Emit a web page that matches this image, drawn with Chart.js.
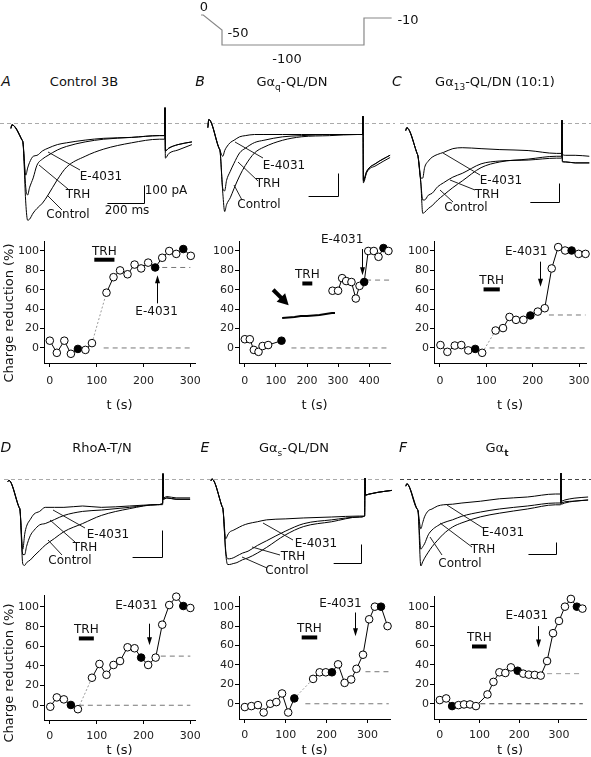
<!DOCTYPE html>
<html>
<head>
<meta charset="utf-8">
<script src="https://cdn.jsdelivr.net/npm/chart.js@4"></script>
<style>
  body { margin: 0; width: 591px; height: 757px; position: relative; overflow: hidden; background: #fff;
         font-family: "DejaVu Sans", sans-serif; color: #111; }
  canvas { position: absolute; }
  .lbl { position: absolute; white-space: nowrap; transform: translate(-50%, -50%); font-size: 12px; line-height: 1; }
  .ttl { font-size: 13px; }
  .let { font-size: 14px; font-style: italic; }
  sub { font-size: 9px; vertical-align: -4px; line-height: 0; }
</style>
</head>
<body>
<script>
// voltage protocol (ms, mV)
const protocolT = [-48, -36, 65, 65, 830, 830, 979];
const protocolV = [0, 0, -50, -100, -100, -10, -10];

// current traces: sample times (ms) and currents (pA)
const traceT = [0, 5, 60, 65, 80, 90, 100, 120, 140, 170, 200, 250, 300, 400, 500, 650, 800, 828, 830, 832, 850, 900, 975];

const aControl = [-30,-10,-95,-110,-445,-540,-535,-500,-475,-445,-400,-315,-245,-185,-145,-110,-90,-90,85,-195,-170,-150,-120];
const aTRH     = [-30,-10,-95,-110,-360,-400,-360,-305,-235,-200,-180,-150,-130,-105,-90,-80,-70,-70,85,-155,-140,-120,-105];
const aE4031   = [-30,-10,-95,-110,-290,-250,-220,-185,-180,-155,-140,-120,-110,-95,-85,-80,-70,-70,85,-155,-140,-120,-105];

const bControl = [-20,15,-110,-120,-305,-385,-355,-325,-285,-230,-185,-130,-105,-75,-60,-55,-50,-50,30,-260,-215,-185,-150];
const bTRH     = [-20,15,-110,-120,-285,-295,-250,-210,-175,-130,-110,-85,-75,-60,-55,-50,-50,-50,30,-250,-210,-175,-140];
const bE4031   = [-20,15,-110,-120,-145,-120,-105,-85,-75,-60,-55,-50,-50,-50,-50,-50,-50,-50,30,-250,-210,-175,-140];

const cControl = [-40,-25,-160,-175,-315,-475,-470,-450,-435,-405,-380,-340,-305,-235,-205,-190,-175,-175,15,-205,-205,-210,-210];
const cTRH     = [-40,-25,-160,-175,-315,-405,-405,-380,-370,-335,-315,-285,-265,-215,-200,-195,-185,-185,15,-200,-205,-210,-210];
const cE4031   = [-40,-25,-160,-175,-290,-290,-235,-200,-180,-165,-155,-135,-130,-135,-140,-145,-160,-160,15,-165,-170,-170,-175];

const dControl = [-10,-5,-105,-115,-315,-320,-310,-300,-285,-265,-245,-220,-195,-165,-135,-110,-95,-90,20,-75,-70,-75,-75];
const dTRH     = [-10,-5,-105,-115,-280,-280,-250,-210,-190,-170,-165,-150,-135,-120,-115,-105,-95,-90,20,-75,-70,-75,-75];
const dE4031   = [-10,-5,-105,-115,-260,-205,-175,-150,-130,-120,-105,-105,-105,-100,-105,-100,-95,-95,20,-70,-65,-70,-70];

const eControl = [-10,0,-145,-160,-395,-450,-450,-445,-440,-425,-415,-390,-360,-295,-250,-225,-200,-195,5,-85,-80,-70,-60];
const eTRH     = [-10,0,-145,-160,-380,-420,-420,-415,-405,-390,-380,-350,-325,-275,-235,-215,-200,-195,5,-85,-80,-70,-60];
const eE4031   = [-10,0,-145,-160,-315,-295,-280,-270,-260,-245,-235,-225,-215,-210,-205,-200,-195,-195,5,-85,-80,-70,-60];

const fControl = [-60,-40,-250,-265,-725,-690,-660,-610,-565,-510,-460,-400,-365,-315,-285,-250,-215,-215,50,-210,-200,-185,-175];
const fTRH     = [-60,-40,-250,-265,-585,-565,-540,-465,-425,-390,-365,-340,-310,-275,-250,-225,-200,-200,50,-200,-190,-185,-175];
const fE4031   = [-60,-40,-250,-265,-415,-365,-315,-265,-250,-225,-215,-210,-200,-185,-165,-150,-125,-125,50,-185,-175,-160,-150];

// scale bar durations (ms); amplitude is 100 pA everywhere
const barMs = [200, 160, 155, 160, 150, 150];

// charge reduction (%) vs time (s); filled = times drawn as black dots
const aTime = [0,15,31,45,60,76,90,121,136,150,166,181,195,210,225,240,255,270,285,301];
const aReduction = [7.5,-5,7.5,-6,-1,-2,5,57,73,80,76,86,82,88,83,93,100,97,102,95];
const aFilled = [60,225,285];

const bTime = [0,16,29,44,57,75,118,282,300,313,326,343,357,369,384,397,415,430,446,462];
const bReduction = [9,9,-2,-4,2,3,7.5,59,59,72,69,68,51,64,68,100,100,94,103,100];
const bFilled = [118,384,446];
const bSweepT = [120,140,160,180,200,220,240,260,280,290];
const bSweep = [31,31.5,32,33,33,33.5,34,35,36,36];

const cTime = [1,16,32,46,61,76,91,120,136,150,164,180,195,211,226,241,255,270,284,299,314];
const cReduction = [3,-4,2.5,3,-2.5,-1,-5,18,20.5,32,29,29,33.5,37.5,41,82,104,100.5,100.5,97,97];
const cFilled = [76,195,284];

const dTime = [1,15,30,45,60,90,106,121,136,150,166,181,195,210,226,240,255,270,285,300];
const dReduction = [-1.5,8,6,0.3,-4,28,42,31,41,45,59,58,48.5,41,48.5,82,102,110.5,101,99];
const dFilled = [45,195,285];

const eTime = [0,16,32,46,62,77,91,106,121,167,183,198,213,228,244,260,273,289,304,318,333,349];
const eReduction = [-3.4,-2.4,-1.4,-9,0,1.7,10.6,-9,5.5,25.6,32.4,32.4,32.4,40.6,21.5,25,36,50.5,87,100,100,80];
const eFilled = [121,213,333];

const fTime = [0,16,31,47,61,76,91,120,135,150,165,179,196,210,224,239,254,270,285,300,315,330,345,359];
const fReduction = [3.8,5.5,-2.4,-1.4,-0.7,-0.7,-2.4,9.6,22.5,32.4,31.7,37.5,34,31,30,29.7,29,44,72.7,85.3,100,108,100,98];
const fFilled = [31,196,345];

const pctTicks = [0, 20, 40, 60, 80, 100];
const timeTicks = [0, 100, 200, 300];
const timeTicksB = [0, 100, 200, 300, 400];

Chart.defaults.font.family = '"DejaVu Sans", sans-serif';
Chart.defaults.color = '#222';

function mk(left, top, w, h) {
  const c = document.createElement('canvas');
  c.width = w; c.height = h;
  c.style.left = left + 'px'; c.style.top = top + 'px';
  c.style.width = w + 'px'; c.style.height = h + 'px';
  document.body.appendChild(c);
  return c;
}
const pts = (xs, ys) => xs.map((x, i) => ({ x, y: ys[i] }));

function lab(x, y, html, cls, extra) {
  const d = document.createElement('div');
  d.className = 'lbl' + (cls ? ' ' + cls : '');
  d.innerHTML = html;
  d.style.left = x + 'px'; d.style.top = y + 'px';
  if (extra) d.style.transform = extra;
  document.body.appendChild(d);
}

function bare(xmin, xmax, ymin, ymax) {
  return {
    responsive: false, animation: false, devicePixelRatio: 1, events: [],
    layout: { padding: 0 },
    plugins: { legend: { display: false }, tooltip: { enabled: false } },
    scales: {
      x: { type: 'linear', display: false, min: xmin, max: xmax },
      y: { type: 'linear', display: false, min: ymin, max: ymax }
    }
  };
}

// ---- protocol ----
{
  const c = mk(195, 0, 230, 62);
  const k = 0.1856;
  const xmin = 65 - (222 - 195) / k;
  new Chart(c, {
    type: 'scatter',
    data: { datasets: [{ data: pts(protocolT, protocolV), showLine: true, borderColor: '#888',
      borderWidth: 1.2, pointRadius: 0 }] },
    options: bare(xmin, xmin + 230 / k, 50 - 62 / 0.3, 50)
  });
  lab(204, 6, '0', 'ttl');
  lab(238, 32, '-50', 'ttl');
  lab(287, 58, '-100', 'ttl');
  lab(408, 19, '-10', 'ttl');
}

// ---- current traces ----
const traceDeco = {
  id: 'traceDeco',
  beforeDatasetsDraw(chart, args, o) {
    const { ctx, scales: { y } } = chart;
    ctx.save();
    ctx.strokeStyle = o.zeroColor; ctx.lineWidth = 1; ctx.setLineDash([4, 3]);
    const yz = Math.round(y.getPixelForValue(0)) + 0.5;
    ctx.beginPath(); ctx.moveTo(o.zeroFrom - o.left, yz); ctx.lineTo(o.zeroTo - o.left, yz); ctx.stroke();
    ctx.restore();
  },
  afterDatasetsDraw(chart, args, o) {
    const { ctx, scales: { x, y } } = chart;
    ctx.save();
    ctx.strokeStyle = '#000'; ctx.lineWidth = 1;
    const bx = o.bar[0] - o.left + 0.5, by = o.bar[1] - o.top + 0.5;
    const hl = x.getPixelForValue(o.barMs) - x.getPixelForValue(0);
    const vl = y.getPixelForValue(0) - y.getPixelForValue(100);
    ctx.beginPath(); ctx.moveTo(bx - hl, by); ctx.lineTo(bx, by); ctx.lineTo(bx, by - vl); ctx.stroke();
    ctx.strokeStyle = '#222';
    o.leaders.forEach(l => {
      ctx.beginPath();
      ctx.moveTo(l[0] - o.left, l[1] - o.top); ctx.lineTo(l[2] - o.left, l[3] - o.top);
      ctx.stroke();
    });
    ctx.restore();
  }
};

function traceChart(p) {
  const c = mk(p.left, p.top, p.w, p.h);
  const k = (p.xUp - p.xDown) / (830 - 65);
  const xmin = 65 - (p.xDown - p.left) / k;
  const pa = 100 / p.barPx;
  const ymax = (p.yZero - p.top) * pa;
  const opts = bare(xmin, xmin + p.w / k, ymax - p.h * pa, ymax);
  opts.plugins.traceDeco = {
    left: p.left, top: p.top, zeroFrom: p.zeroFrom, zeroTo: p.zeroTo, zeroColor: p.zeroColor,
    bar: p.bar, barMs: p.barMs, leaders: p.leaders
  };
  new Chart(c, {
    type: 'scatter',
    data: { datasets: p.traces.map(tr => ({
      data: pts(traceT, tr), showLine: true, borderColor: '#000', borderWidth: 1,
      pointRadius: 0, cubicInterpolationMode: 'monotone'
    })) },
    options: opts,
    plugins: [traceDeco]
  });
  lab(p.labels[0][0], p.labels[0][1], 'E-4031');
  lab(p.labels[1][0], p.labels[1][1], 'TRH');
  lab(p.labels[2][0], p.labels[2][1], 'Control');
}

traceChart({ left: 0, top: 95, w: 200, h: 135, xDown: 23, xUp: 165, yZero: 123, barPx: 18,
  zeroFrom: 0, zeroTo: 200, zeroColor: '#aaa', bar: [144, 203], barMs: barMs[0],
  traces: [aControl, aTRH, aE4031],
  leaders: [[48,152,80,170],[39,165,68,189],[47,195,62,210]],
  labels: [[101,176],[78,194],[68,214]] });
lab(166, 190, '100 pA');
lab(127, 210, '200 ms');

traceChart({ left: 195, top: 95, w: 200, h: 135, xDown: 220, xUp: 363, yZero: 123, barPx: 23,
  zeroFrom: 197, zeroTo: 395, zeroColor: '#aaa', bar: [338, 196], barMs: barMs[1],
  traces: [bControl, bTRH, bE4031],
  leaders: [[235,142,263,158],[238,162,258,181],[234,185,242,200]],
  labels: [[284,165],[268,183],[259,204]] });

traceChart({ left: 395, top: 95, w: 196, h: 135, xDown: 418, xUp: 562, yZero: 123, barPx: 19,
  zeroFrom: 400, zeroTo: 591, zeroColor: '#aaa', bar: [559, 202], barMs: barMs[2],
  traces: [cControl, cTRH, cE4031],
  leaders: [[443,153,480,175],[450,180,475,190],[440,190,453,202]],
  labels: [[501,180],[487,194],[466,207]] });

traceChart({ left: 0, top: 455, w: 197, h: 130, xDown: 20, xUp: 163, yZero: 479, barPx: 27,
  zeroFrom: 4, zeroTo: 195, zeroColor: '#aaa', bar: [162, 557], barMs: barMs[3],
  traces: [dControl, dTRH, dE4031],
  leaders: [[53,510,85,528],[50,520,75,542],[48,540,62,555]],
  labels: [[108,534],[85,547],[70,560]] });

traceChart({ left: 197, top: 455, w: 198, h: 130, xDown: 223, xUp: 365, yZero: 479, barPx: 19,
  zeroFrom: 200, zeroTo: 395, zeroColor: '#aaa', bar: [361, 563], barMs: barMs[4],
  traces: [eControl, eTRH, eE4031],
  leaders: [[263,523,293,540],[252,547,280,555],[242,557,267,568]],
  labels: [[316,543],[293,556],[287,570]] });

traceChart({ left: 395, top: 455, w: 196, h: 130, xDown: 418, xUp: 561, yZero: 479, barPx: 12,
  zeroFrom: 400, zeroTo: 591, zeroColor: '#444', bar: [556, 554], barMs: barMs[5],
  traces: [fControl, fTRH, fE4031],
  leaders: [[447,505,483,528],[440,523,472,547],[430,537,442,555]],
  labels: [[503,532],[483,549],[460,563]] });

// ---- charge reduction plots ----
const scatterDeco = {
  id: 'scatterDeco',
  afterDatasetsDraw(chart, args, o) {
    const { ctx, scales: { x, y } } = chart;
    const X = v => x.getPixelForValue(v), Y = v => y.getPixelForValue(v);
    ctx.save();
    ctx.font = '12px "DejaVu Sans", sans-serif'; ctx.fillStyle = '#111';
    ctx.textAlign = 'center'; ctx.textBaseline = 'alphabetic';
    ctx.fillText('TRH', X((o.trh[0] + o.trh[1]) / 2), Y(o.trh[2]) - 5);
    ctx.textBaseline = 'middle';
    ctx.fillText('E-4031', X(o.eLabel[0]), Y(o.eLabel[1]));
    const ax = Math.round(X(o.eArrow[0])) + 0.5, y1 = Y(o.eArrow[1]), y2 = Y(o.eArrow[2]);
    const dir = Math.sign(y2 - y1);
    ctx.strokeStyle = '#000'; ctx.lineWidth = 1;
    ctx.beginPath(); ctx.moveTo(ax, y1); ctx.lineTo(ax, y2 - dir * 5); ctx.stroke();
    ctx.fillStyle = '#000';
    ctx.beginPath(); ctx.moveTo(ax, y2); ctx.lineTo(ax - 2.5, y2 - dir * 8); ctx.lineTo(ax + 2.5, y2 - dir * 8);
    ctx.closePath(); ctx.fill();
    if (o.bigArrow) {
      const [t1, v1, t2, v2] = o.bigArrow;
      const x1 = X(t1), yy1 = Y(v1), x2 = X(t2), yy2 = Y(v2);
      const L = Math.hypot(x2 - x1, yy2 - yy1);
      ctx.translate(x1, yy1); ctx.rotate(Math.atan2(yy2 - yy1, x2 - x1));
      ctx.fillRect(0, -2, L - 9, 4);
      ctx.beginPath(); ctx.moveTo(L, 0); ctx.lineTo(L - 11, -6); ctx.lineTo(L - 11, 6); ctx.closePath(); ctx.fill();
    }
    ctx.restore();
  }
};

function axis(min, max, ticks, pad, fit) {
  return {
    type: 'linear', min, max,
    afterBuildTicks: s => { s.ticks = ticks.map(v => ({ value: v })); },
    afterFit: fit,
    grid: { drawOnChartArea: false, drawTicks: true, tickLength: 4, color: '#000', lineWidth: 1 },
    border: { display: true, color: '#000', width: 1 },
    ticks: { autoSkip: false, maxRotation: 0, padding: pad, font: { size: 11 }, color: '#222' }
  };
}

function scatterChart(p) {
  const c = mk(p.left, p.top, p.w, p.h);
  const gapColor = p.gapStyle === 'none' ? 'rgba(0,0,0,0)' : '#999';
  const ds = [{
    data: pts(p.t, p.v), showLine: true, borderColor: '#000', borderWidth: 1, clip: false,
    pointRadius: 3.8, pointBorderWidth: 1, pointBorderColor: '#000',
    pointBackgroundColor: p.t.map(t => p.filled.includes(t) ? '#000' : '#fff'),
    segment: {
      borderColor: s => s.p0DataIndex === p.gap ? gapColor : undefined,
      borderDash: s => s.p0DataIndex === p.gap ? [2, 2] : undefined
    }
  }];
  if (p.sweep) ds.push({ data: pts(p.sweep[0], p.sweep[1]), showLine: true, borderColor: '#000',
    borderWidth: 2, pointRadius: 0 });
  ds.push({ data: [{ x: p.trh[0], y: p.trh[2] }, { x: p.trh[1], y: p.trh[2] }], showLine: true,
    borderColor: '#000', borderWidth: 4, pointRadius: 0, borderCapStyle: 'butt' });
  p.baselines.forEach(b => ds.push({ data: [{ x: b[0], y: b[2] }, { x: b[1], y: b[2] }], showLine: true,
    borderColor: b[3] || '#777', borderWidth: 1, borderDash: [5, 4], pointRadius: 0 }));

  const x = axis(p.xmin, p.xmax, p.xticks, p.xPad, s => { s.height = p.axisH; s.paddingLeft = 0; s.paddingRight = 0; });
  x.title = { display: true, text: 't (s)', font: { size: 13 }, color: '#111', padding: 0 };
  const y = axis(p.ymin, p.ymax, pctTicks, 1, s => { s.width = p.axisW; s.paddingTop = 0; s.paddingBottom = 0; });

  new Chart(c, {
    type: 'scatter',
    data: { datasets: ds },
    options: {
      responsive: false, animation: false, devicePixelRatio: 1, events: [],
      layout: { padding: { top: p.padTop, right: p.padRight, left: 0, bottom: 0 } },
      plugins: { legend: { display: false }, tooltip: { enabled: false },
        scatterDeco: { trh: p.trh, eArrow: p.eArrow, eLabel: p.eLabel, bigArrow: p.bigArrow || null } },
      scales: { x, y }
    },
    plugins: [scatterDeco]
  });
}

const row1 = { top: 231, h: 182, padTop: 10, axisH: 50, xPad: 8, ymin: -15.5, ymax: 110.3 };
const row2 = { top: 587, h: 171, padTop: 8, axisH: 38, xPad: 6, ymin: -15, ymax: 112.2 };

scatterChart(Object.assign({}, row1, { left: 0, w: 200, axisW: 44, padRight: 0, xmin: -12.4, xmax: 310,
  xticks: timeTicks, t: aTime, v: aReduction, filled: aFilled, gap: 6, gapStyle: 'dot',
  trh: [95, 138, 91], baselines: [[115, 300, 0], [240, 300, 83]],
  eArrow: [228, 46, 75], eLabel: [228, 37] }));

scatterChart(Object.assign({}, row1, { left: 200, w: 195, axisW: 39, padRight: 0, xmin: -18.8, xmax: 467,
  xticks: timeTicksB, t: bTime, v: bReduction, filled: bFilled, gap: 6, gapStyle: 'none',
  sweep: [bSweepT, bSweep],
  trh: [185, 217, 66.5], baselines: [[150, 470, 0], [390, 470, 70]],
  eArrow: [376, 102, 75], eLabel: [313, 111], bigArrow: [91, 60, 141, 44] }));

scatterChart(Object.assign({}, row1, { left: 395, w: 196, axisW: 39, padRight: 4, xmin: -12.9, xmax: 315,
  xticks: timeTicks, t: cTime, v: cReduction, filled: cFilled, gap: 6, gapStyle: 'dot',
  trh: [94, 129, 60.4], baselines: [[107, 314, 0], [235, 314, 34]],
  eArrow: [216, 89, 63], eLabel: [186, 99] }));

scatterChart(Object.assign({}, row2, { left: 0, w: 200, axisW: 44, padRight: 0, xmin: -12.4, xmax: 310,
  xticks: timeTicks, t: dTime, v: dReduction, filled: dFilled, gap: 4, gapStyle: 'dot',
  trh: [62, 94, 68], baselines: [[62, 300, 0], [237, 300, 50]],
  eArrow: [212, 83, 61], eLabel: [185, 101] }));

scatterChart(Object.assign({}, row2, { left: 200, w: 195, axisW: 39, padRight: 0, padTop: 9, axisH: 39,
  xmin: -14.3, xmax: 355, ymin: -15.7, ymax: 111,
  xticks: timeTicks, t: eTime, v: eReduction, filled: eFilled, gap: 8, gapStyle: 'dot',
  trh: [139, 177, 68.3], baselines: [[148, 352, 0], [295, 352, 33]],
  eArrow: [270, 94, 69.6], eLabel: [234, 103] }));

scatterChart(Object.assign({}, row2, { left: 395, w: 196, axisW: 39, padRight: 0, padTop: 9, axisH: 39,
  xmin: -14.6, xmax: 368, ymin: -15.7, ymax: 111,
  xticks: timeTicks, t: fTime, v: fReduction, filled: fFilled, gap: -1, gapStyle: 'dot',
  trh: [81, 118, 59], baselines: [[102, 360, 0, '#444'], [270, 360, 31, '#999']],
  eArrow: [246, 80, 58], eLabel: [219, 90.5] }));

// ---- headings and axis titles ----
lab(6, 81, 'A', 'let');
lab(84, 81, 'Control 3B', 'ttl');
lab(200, 81, 'B', 'let');
lab(292, 81, 'G&alpha;<sub>q</sub>-QL/DN', 'ttl');
lab(397, 81, 'C', 'let');
lab(495, 81, 'G&alpha;<sub>13</sub>-QL/DN (10:1)', 'ttl');
lab(6, 447, 'D', 'let');
lab(102, 447, 'RhoA-T/N', 'ttl');
lab(205, 447, 'E', 'let');
lab(294, 447, 'G&alpha;<sub>s</sub>-QL/DN', 'ttl');
lab(403, 447, 'F', 'let');
lab(497, 447, 'G&alpha;<sub><b>t</b></sub>', 'ttl');
lab(8, 313, 'Charge reduction (%)', 'ttl', 'translate(-50%,-50%) rotate(-90deg)');
lab(8, 673, 'Charge reduction (%)', 'ttl', 'translate(-50%,-50%) rotate(-90deg)');
</script>
</body>
</html>
